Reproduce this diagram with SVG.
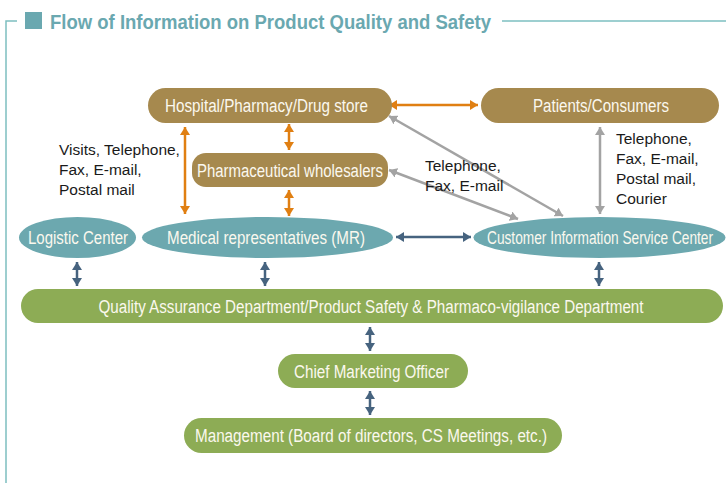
<svg xmlns="http://www.w3.org/2000/svg" width="726" height="483" viewBox="0 0 726 483">
<style>
.brown{fill:#a6894e}
.teal{fill:#6ca8af}
.green{fill:#8dac55}
.nt{font-family:"Liberation Sans",Arial,sans-serif;font-size:18px;fill:#fbf8ee;text-anchor:middle}
.lbl{font-family:"Liberation Sans",Arial,sans-serif;font-size:15.5px;fill:#1a1a1a}
.or{stroke:#e07f12;stroke-width:2.5;fill:none;marker-start:url(#mo);marker-end:url(#mo)}
.gr{stroke:#a3a3a3;stroke-width:2.5;fill:none;marker-start:url(#mg);marker-end:url(#mg)}
.bl{stroke:#46637f;stroke-width:2.5;fill:none;marker-start:url(#mb);marker-end:url(#mb)}
</style>
<defs>
<marker id="mo" viewBox="0 0 8 10" refX="8" refY="5" markerWidth="8" markerHeight="10" markerUnits="userSpaceOnUse" orient="auto-start-reverse"><path d="M0,0 L8,5 L0,10 z" fill="#e07f12"/></marker>
<marker id="mg" viewBox="0 0 8 10" refX="8" refY="5" markerWidth="8" markerHeight="10" markerUnits="userSpaceOnUse" orient="auto-start-reverse"><path d="M0,0 L8,5 L0,10 z" fill="#a3a3a3"/></marker>
<marker id="mb" viewBox="0 0 8 10" refX="8" refY="5" markerWidth="8" markerHeight="10" markerUnits="userSpaceOnUse" orient="auto-start-reverse"><path d="M0,0 L8,5 L0,10 z" fill="#46637f"/></marker>
</defs>
<g id="frame">
<path d="M17,21 H6 V483" fill="none" stroke="#7dbfc0" stroke-width="1.5"/>
<line x1="502" y1="21" x2="726" y2="21" stroke="#7dbfc0" stroke-width="1.5"/>
<rect x="25" y="12" width="17" height="17" fill="#6aa8b0"/>
<text x="50" y="28.5" font-family="Liberation Sans,Arial,sans-serif" font-weight="bold" font-size="21" fill="#6aa8b0" textLength="441" lengthAdjust="spacingAndGlyphs">Flow of Information on Product Quality and Safety</text>
</g>
<g id="connectors">
<line class="or" x1="389" y1="105" x2="478" y2="105"/>
<line class="or" x1="185" y1="127" x2="185" y2="214"/>
<line class="or" x1="289" y1="124" x2="289" y2="150"/>
<line class="or" x1="289" y1="190" x2="289" y2="216"/>
<line class="gr" x1="389" y1="116" x2="563" y2="216"/>
<line class="gr" x1="389" y1="170" x2="518" y2="219"/>
<line class="gr" x1="600" y1="127" x2="600" y2="214"/>
<line class="bl" x1="396" y1="237" x2="471" y2="237"/>
<line class="bl" x1="77" y1="262" x2="77" y2="286"/>
<line class="bl" x1="265" y1="262" x2="265" y2="286"/>
<line class="bl" x1="599" y1="262" x2="599" y2="286"/>
<line class="bl" x1="370" y1="327" x2="370" y2="351"/>
<line class="bl" x1="370" y1="391" x2="370" y2="415"/>
</g>
<g id="labels">
<text class="lbl" x="59" y="155">Visits, Telephone,</text>
<text class="lbl" x="59" y="175">Fax, E-mail,</text>
<text class="lbl" x="59" y="195">Postal mail</text>
<text class="lbl" x="425" y="171">Telephone,</text>
<text class="lbl" x="425" y="191">Fax, E-mail</text>
<text class="lbl" x="616" y="144">Telephone,</text>
<text class="lbl" x="616" y="164">Fax, E-mail,</text>
<text class="lbl" x="616" y="184">Postal mail,</text>
<text class="lbl" x="616" y="204">Courier</text>
</g>
<g id="hospital">
<rect class="brown" x="148" y="88" width="244" height="35" rx="17.5"/>
<text class="nt" x="266.5" y="111.5" textLength="203" lengthAdjust="spacingAndGlyphs">Hospital/Pharmacy/Drug store</text>
</g>
<g id="patients">
<rect class="brown" x="481" y="88" width="238" height="35" rx="17.5"/>
<text class="nt" x="601" y="111.5" textLength="136" lengthAdjust="spacingAndGlyphs">Patients/Consumers</text>
</g>
<g id="wholesalers">
<rect class="brown" x="192" y="153" width="196" height="34" rx="14"/>
<text class="nt" x="290" y="176.5" textLength="186" lengthAdjust="spacingAndGlyphs">Pharmaceutical wholesalers</text>
</g>
<g id="logistic">
<ellipse class="teal" cx="77.5" cy="237.5" rx="58.5" ry="20.5"/>
<text class="nt" x="78" y="244" textLength="100" lengthAdjust="spacingAndGlyphs">Logistic Center</text>
</g>
<g id="mr">
<ellipse class="teal" cx="267.5" cy="237.5" rx="125.5" ry="20.5"/>
<text class="nt" x="266" y="244" textLength="198" lengthAdjust="spacingAndGlyphs">Medical representatives (MR)</text>
</g>
<g id="cisc">
<ellipse class="teal" cx="599.5" cy="237.5" rx="126" ry="20.5"/>
<text class="nt" x="600" y="244" textLength="226" lengthAdjust="spacingAndGlyphs">Customer Information Service Center</text>
</g>
<g id="qa">
<rect class="green" x="21" y="289" width="702" height="34" rx="17"/>
<text class="nt" x="371" y="312.5" textLength="545" lengthAdjust="spacingAndGlyphs">Quality Assurance Department/Product Safety &amp; Pharmaco-vigilance Department</text>
</g>
<g id="cmo">
<rect class="green" x="278" y="354" width="190" height="34" rx="17"/>
<text class="nt" x="371.5" y="377.5" textLength="155" lengthAdjust="spacingAndGlyphs">Chief Marketing Officer</text>
</g>
<g id="management">
<rect class="green" x="184" y="418" width="378" height="35" rx="17.5"/>
<text class="nt" x="371" y="442" textLength="352" lengthAdjust="spacingAndGlyphs">Management (Board of directors, CS Meetings, etc.)</text>
</g>
</svg>
